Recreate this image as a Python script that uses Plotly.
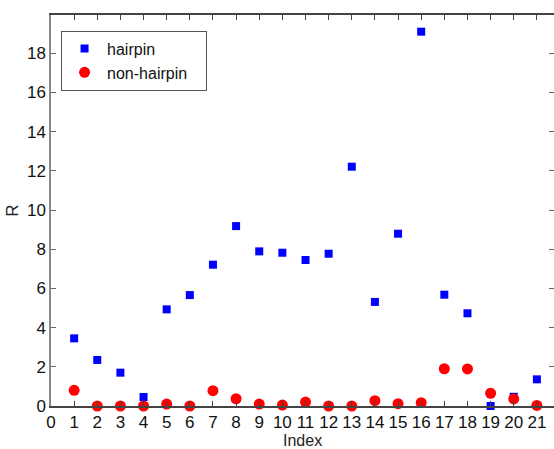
import plotly.graph_objects as go

index = list(range(1, 22))
hairpin = [3.45, 2.35, 1.70, 0.46, 4.93, 5.66, 7.21, 9.18, 7.89, 7.82, 7.45,
           7.77, 12.21, 5.31, 8.79, 19.1, 5.68, 4.73, 0.0, 0.47, 1.36]
non_hairpin = [0.80, 0.0, 0.0, 0.0, 0.10, 0.0, 0.78, 0.37, 0.10, 0.05, 0.20,
               0.0, 0.0, 0.27, 0.12, 0.17, 1.90, 1.89, 0.65, 0.36, 0.03]
x_ticks = list(range(0, 22))
y_ticks = list(range(0, 20, 2))

fig = go.Figure()
fig.add_trace(go.Scatter(x=index, y=hairpin, mode="markers", name="hairpin",
                         marker=dict(symbol="square", size=8, color="#0000ff"),
                         cliponaxis=False))
fig.add_trace(go.Scatter(x=index, y=non_hairpin, mode="markers",
                         name="non-hairpin\u00a0\u00a0\u00a0",
                         marker=dict(symbol="circle", size=11, color="#ff0000"),
                         cliponaxis=False))

axis_common = dict(showline=True, linewidth=1.5, mirror="ticks",
                   ticks="inside", ticklen=5, showgrid=False,
                   zeroline=False, tickfont=dict(size=17, color="#111111"))
fig.update_xaxes(range=[0, 21.74], tickvals=x_ticks, ticktext=[str(v) for v in x_ticks],
                 linecolor="#444444", tickcolor="#444444", automargin=False,
                 ticklabelstandoff=0, **axis_common)
fig.update_yaxes(range=[0, 19.95], tickvals=y_ticks, ticktext=[str(v) for v in y_ticks],
                 linecolor="#888888", tickcolor="#666666", automargin=False,
                 title=dict(text="R", font=dict(size=17, color="#222222"), standoff=4),
                 **axis_common)

fig.add_annotation(text="Index", xref="paper", yref="paper", x=0.5, y=0,
                   xanchor="center", yanchor="top", yshift=-25, showarrow=False,
                   borderpad=0, font=dict(size=16, color="#222222"))

fig.update_layout(
    width=554, height=449,
    margin=dict(l=51, r=0, t=15, b=43),
    paper_bgcolor="white", plot_bgcolor="white",
    font=dict(family="Liberation Sans, Arial, sans-serif", color="#111111"),
    legend=dict(x=0.02, y=0.96, xanchor="left", yanchor="top",
                bordercolor="#555555", borderwidth=1, bgcolor="white",
                font=dict(size=16), itemwidth=35, tracegroupgap=0),
    showlegend=True,
)

fig.write_html("out.html")
